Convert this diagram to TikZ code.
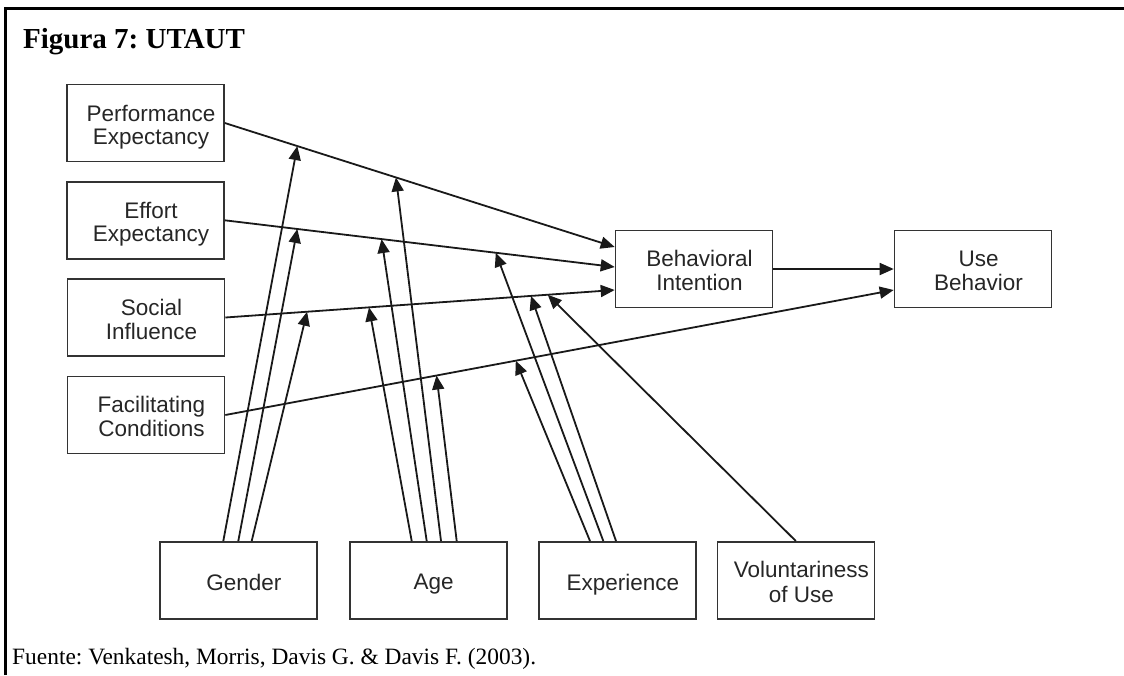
\documentclass[tikz,border=0pt]{standalone}
\usepackage{fontspec}
\setmainfont{Liberation Serif}
\newfontfamily\boxfont{Liberation Sans}
\usetikzlibrary{arrows.meta,calc}

\tikzset{
  construct/.style={draw=black!80, line width=1.6pt, minimum width=157pt, minimum height=77pt,
    inner sep=0pt},
  boxtext/.style={inner sep=0pt, align=center, text=black!85, xshift=5.5pt, yshift=-5pt,
    font=\boxfont\fontsize{22.5}{23}\selectfont},
  link/.style={draw=black!90, line width=1.8pt, -{Triangle[length=14pt,width=12pt]}},
  frame/.style={line width=2.7pt, black}
}

% a labelled box: name, x, y, text
\newcommand\utbox[4]{%
  \node[construct, label={[boxtext, name=#1-text]center:{#4}}] (#1) at (#2,#3) {};}

\begin{document}
\frenchspacing
\begin{tikzpicture}[x=1pt, y=-1pt]
  \useasboundingbox (0,0) rectangle (1124,675);

  % page frame (top and left rules)
  \draw[frame] (5.3,675) -- (5.3,8.7) -- (1124,8.7);

  % heading and source line
  \node[anchor=base west, inner sep=0pt, font=\fontsize{29}{29}\selectfont\bfseries] (title) at (23,48) {Figura 7: UTAUT};
  \node[anchor=base west, inner sep=0pt, font=\fontsize{23.4}{24}\selectfont] (source) at (12,664) {Fuente: Venkatesh, Morris, Davis G. \& Davis F. (2003).};

  % determinants
  \utbox{PE}{145.5}{123}{\strut Performance\\\strut Expectancy}
  \utbox{EE}{145.5}{220.3}{\strut Effort\\\strut Expectancy}
  \utbox{SI}{146}{317.5}{\strut Social\\\strut Influence}
  \utbox{FC}{146}{415}{\strut Facilitating\\\strut Conditions}

  % outcomes
  \utbox{BI}{694}{269}{\strut Behavioral\\\strut Intention}
  \utbox{UB}{973}{269}{\strut Use\\\strut Behavior}

  % moderators
  \utbox{G}{238.3}{580.3}{\strut Gender}
  \utbox{A}{428.2}{580.3}{\strut Age}
  \utbox{E}{617.3}{580.3}{\strut Experience}
  \utbox{V}{795.8}{580.3}{\strut Voluntariness\\\strut of Use}

  % direct effects, with the points where moderators act
  \draw[link] (PE.east) -- coordinate[pos=0.186] (pe1) coordinate[pos=0.439] (pe2) ($(BI.west)+(0,-22)$);
  \draw[link] (EE.east) -- coordinate[pos=0.186] (ee1) coordinate[pos=0.402] (ee2) coordinate[pos=0.695] (ee3) ($(BI.west)+(0,-2)$);
  \draw[link] (SI.east) -- coordinate[pos=0.210] (si1) coordinate[pos=0.369] (si2) coordinate[pos=0.785] (si3) coordinate[pos=0.828] (si4) ($(BI.west)+(0,21)$);
  \draw[link] (FC.east) -- coordinate[pos=0.316] (fc1) coordinate[pos=0.4346] (fc2) ($(UB.west)+(0,21)$);
  \draw[link] (BI.east) -- (UB.west);

  % gender
  \draw[link] ($(G.north)+(-15,0)$) -- (pe1);
  \draw[link] (G.north) -- (ee1);
  \draw[link] ($(G.north)+(13.4,0)$) -- (si1);

  % age
  \draw[link] ($(A.north)+(-16.5,0)$) -- (si2);
  \draw[link] ($(A.north)+(-1.5,0)$) -- (ee2);
  \draw[link] ($(A.north)+(12.8,0)$) -- (pe2);
  \draw[link] ($(A.north)+(28.5,0)$) -- (fc1);

  % experience
  \draw[link] ($(E.north)+(-27.3,0)$) -- (fc2);
  \draw[link] ($(E.north)+(-14,0)$) -- (ee3);
  \draw[link] ($(E.north)+(-1.3,0)$) -- (si3);

  % voluntariness of use
  \draw[link] (V.north) -- (si4);
\end{tikzpicture}
\end{document}
